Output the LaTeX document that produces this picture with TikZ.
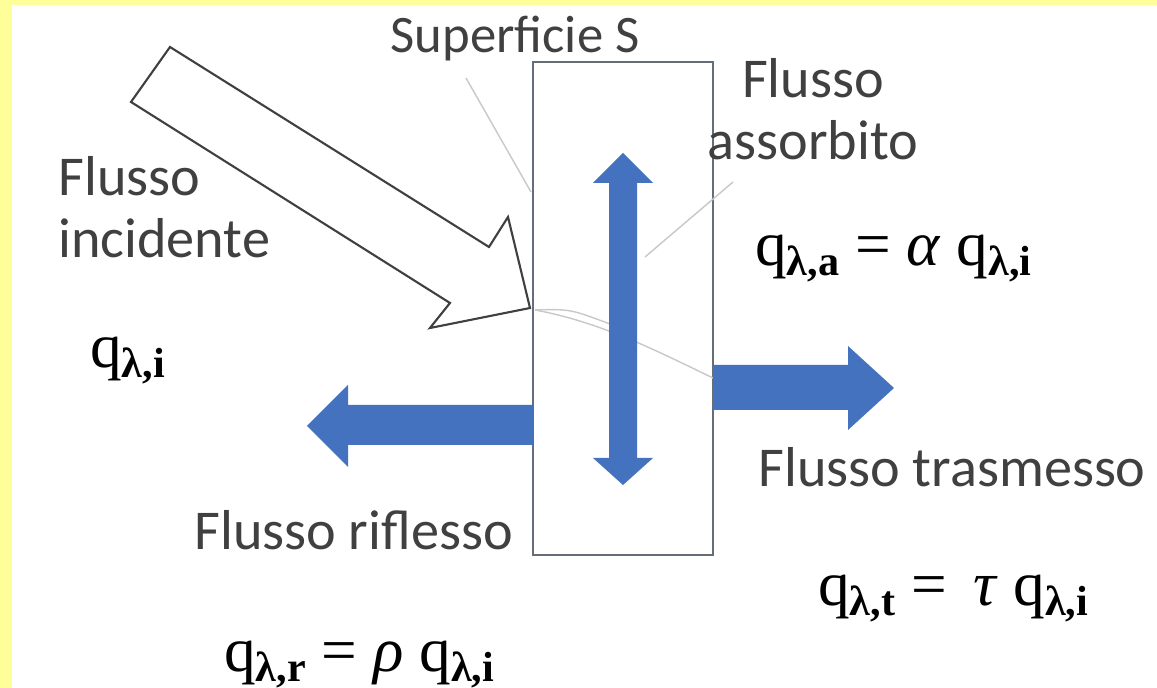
\documentclass[tikz,border=0pt]{standalone}
\usepackage{fontspec}
\setmainfont{Liberation Serif}
\newfontfamily\labelfont{Carlito}
\usepackage{xcolor}
\definecolor{paleyellow}{RGB}{255,255,153}
\definecolor{flowblue}{RGB}{68,114,190}
\definecolor{slabgray}{RGB}{100,110,120}
\definecolor{arrowgray}{RGB}{64,64,64}
\definecolor{labelgray}{RGB}{64,64,64}
\definecolor{leadergray}{RGB}{200,200,200}
\newcommand{\qsub}[1]{q\raisebox{-5.5pt}{\fontsize{24}{26}\selectfont\bfseries λ,#1}}

\begin{document}
\begin{tikzpicture}
    [x=0.02cm,y=-0.02cm,
    flowlabel/.style={font=\labelfont\fontsize{32}{35.7}\selectfont,text=labelgray,inner sep=0pt},
    formula/.style={font=\fontsize{36}{40}\selectfont,inner sep=0pt},
    leader/.style={draw=leadergray,line width=0.8pt}]
    %background
    \useasboundingbox (0,0) rectangle (1157,688);
    \fill[paleyellow] (0,0) rectangle (1157,688);
    \fill[white] (12,5) rectangle (1157,688);
    %surface S
    \draw[slabgray,line width=1.5pt,fill=white] (533,62) rectangle (713,555);
    %leader lines
    \coordinate (supfoot) at (466,78);
    \coordinate (supedge) at (531,192);
    \coordinate (absfoot) at (733,182);
    \coordinate (absend) at (645,257);
    \coordinate (tip) at (535,310);
    \coordinate (trastart) at (713,378);
    \coordinate (shaftend) at (610,324);
    \draw[leader] (supfoot)--(supedge);
    \draw[leader] (absfoot)--(absend);
    \draw[leader] (tip) .. controls (570,309) .. (shaftend);
    \draw[leader] (tip) .. controls (600,322) and (655,350) .. (trastart);
    %absorbed flux
    \fill[flowblue] (609,183)--(593,183)--(623,153)--(653,183)--(637,183)
    --(637,458)--(653,458)--(623,485)--(593,458)--(609,458)--cycle;
    %reflected flux
    \fill[flowblue] (533,405)--(348,405)--(348,385)--(307,426)--(348,467)
    --(348,445)--(533,445)--cycle;
    %transmitted flux
    \fill[flowblue] (713,365)--(848,365)--(848,346)--(894,388)--(848,430)
    --(848,410)--(713,410)--cycle;
    %incident flux
    \draw[arrowgray,line width=1.2pt,fill=white]
    (170,47)--(489,247)--(508,217)--(530,308)--(430,328)--(450,303)--(131,102)--cycle;
    %labels
    \node[flowlabel,anchor=base,font=\labelfont\fontsize{30}{35.7}\selectfont] (sup) at (515,53) {Superficie S};
    \node[flowlabel,anchor=base west,align=left] (inc) at (58,258) {Flusso\\incidente};
    \node[flowlabel,anchor=base,align=center] (abs) at (813,160) {Flusso\\assorbito};
    \node[flowlabel,anchor=base west] (tra) at (758,487) {Flusso trasmesso};
    \node[flowlabel,anchor=base west] (rif) at (194,550) {Flusso riflesso};
    %formulas
    \node[formula,anchor=base west] (qi) at (90,368) {\qsub{i}};
    \node[formula,anchor=base west] (qa) at (755,266) {\qsub{a} = \textit{α} \qsub{i}};
    \node[formula,anchor=base west] (qt) at (818,606) {\qsub{t} = \,\textit{τ} \qsub{i}};
    \node[formula,anchor=base west] (qr) at (224,672) {\qsub{r} = \textit{ρ} \qsub{i}};
\end{tikzpicture}
\end{document}
